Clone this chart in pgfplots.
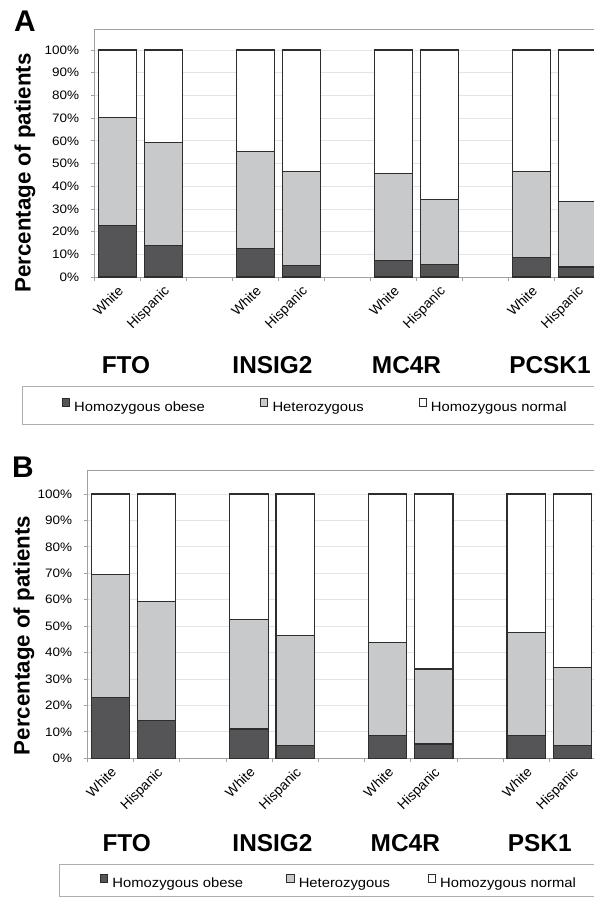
\documentclass[border=0pt]{standalone}
\usepackage{graphicx}
\usepackage{pgfplots}
\pgfplotsset{compat=1.18}
\usepackage{fontspec}
\setmainfont{Liberation Sans}
\newcommand\st[1]{\scalebox{1.1}[1]{#1}}
\definecolor{dk}{RGB}{85,85,87}
\definecolor{lt}{RGB}{200,201,203}
\definecolor{ol}{RGB}{45,45,45}
\definecolor{ax}{RGB}{160,160,160}
\definecolor{gr}{RGB}{228,228,228}
\pgfplotsset{
 panel/.style={
  scale only axis,
  ybar stacked,
  xmin=-0.5, xmax=10.5, ymin=0,
  axis line style={ax, line width=0.9bp},
  ytick={0,10,...,100},
  yticklabels={\st{0\%},\st{10\%},\st{20\%},\st{30\%},\st{40\%},\st{50\%},\st{60\%},\st{70\%},\st{80\%},\st{90\%},\st{100\%}},
  xtick={0,1,3,4,6,7,9,10},
  xticklabels={White,Hispanic,White,Hispanic,White,Hispanic,White,Hispanic},
  minor xtick={-0.5,0.5,1.5,2.5,3.5,4.5,5.5,6.5,7.5,8.5,9.5,10.5},
  tick align=outside,
  xtick pos=left, ytick pos=left,
  every major x tick/.append style={draw=none},
  major tick length=3bp, minor tick length=4bp,
  every tick/.append style={ax, line width=0.8bp},
  ymajorgrids, major grid style={gr, line width=0.8bp},
  yticklabel style={font=\fontsize{12.3}{14}\selectfont, inner sep=1bp, xshift=-11bp},
  xticklabel style={font=\fontsize{13.8}{15}\selectfont, rotate=45, anchor=north east, inner sep=1bp, xshift=-2.5bp, yshift=-2bp},
  every axis plot/.append style={draw=ol, line width=1.1bp},
  legend image code/.code={\draw[#1, line width=0.8bp] (0bp,1.6bp) rectangle (7.3bp,8.9bp);},
  legend style={draw=none, fill=none, inner sep=0pt, outer sep=0pt,
    font=\fontsize{13.5}{15}\selectfont, legend columns=3,
    nodes={inner sep=0pt},
    /tikz/every odd column/.style={column sep=4.3bp}},
 }
}
\begin{document}
\begin{tikzpicture}
\path[use as bounding box] (0,0) rectangle (594bp,-898bp);
% ---------------- Panel A
\begin{axis}[panel, at={(94.3bp,-277bp)}, anchor=south west,
  width=506bp, height=248bp, ymax=109.25, bar width=37.7bp,
  legend style={at={(-0.0644,-0.519)}, anchor=west}]
\addplot[fill=dk] coordinates {(0,22.5) (1,14.0) (3,12.5) (4,5.0) (6,7.4) (7,5.6) (9,8.5) (10,4.4)};
\addplot[fill=lt] coordinates {(0,47.8) (1,45.1) (3,42.6) (4,41.5) (6,38.0) (7,28.4) (9,38.1) (10,29.0)};
\addplot[fill=white] coordinates {(0,29.7) (1,40.9) (3,44.9) (4,53.5) (6,54.6) (7,66.0) (9,53.4) (10,66.6)};
\legend{\makebox[186bp][l]{\st{Homozygous obese}},\makebox[146bp][l]{\st{Heterozygous}},\st{Homozygous normal}}
\end{axis}
\draw[ax!85, line width=0.9bp] (22.3bp,-386.7bp) rectangle (640bp,-424bp);
\node[inner sep=0pt, font=\bfseries\fontsize{30}{30}\selectfont] at (25bp,-21bp) {A};
\node[inner sep=0pt, rotate=90, font=\bfseries\fontsize{22.4}{24}\selectfont] at (25bp,-173bp) {Percentage of patients};
\begin{scope}[every node/.style={inner sep=0pt, font=\bfseries\fontsize{24.5}{26}\selectfont}]
\node at (126bp,-365bp) {FTO};
\node at (272.5bp,-365bp) {INSIG2};
\node at (406.5bp,-365bp) {MC4R};
\node at (550bp,-365bp) {PCSK1};
\end{scope}
% ---------------- Panel B
\begin{axis}[panel, at={(87.3bp,-758.3bp)}, anchor=south west,
  width=508.2bp, height=288.3bp, ymax=109.08, bar width=38.4bp,
  legend style={at={(0.025,-0.428)}, anchor=west}]
\addplot[fill=dk] coordinates {(0,23.0) (1,14.2) (3,11.1) (4,4.8) (6,8.8) (7,5.4) (9,8.6) (10,4.9)};
\addplot[fill=lt] coordinates {(0,46.5) (1,45.2) (3,41.4) (4,41.7) (6,35.0) (7,28.4) (9,38.9) (10,29.5)};
\addplot[fill=white] coordinates {(0,30.5) (1,40.6) (3,47.5) (4,53.5) (6,56.2) (7,66.2) (9,52.5) (10,65.6)};
\legend{\makebox[174bp][l]{\st{Homozygous obese}},\makebox[129bp][l]{\st{Heterozygous}},\st{Homozygous normal}}
\end{axis}
\draw[ax!85, line width=0.9bp] (59bp,-864bp) rectangle (640bp,-896.7bp);
\node[inner sep=0pt, font=\bfseries\fontsize{30}{30}\selectfont] at (23bp,-467bp) {B};
\node[inner sep=0pt, rotate=90, font=\bfseries\fontsize{22.4}{24}\selectfont] at (24bp,-635.5bp) {Percentage of patients};
\begin{scope}[every node/.style={inner sep=0pt, font=\bfseries\fontsize{24.5}{26}\selectfont}]
\node at (126.7bp,-843.3bp) {FTO};
\node at (272.5bp,-843.3bp) {INSIG2};
\node at (405.3bp,-843.3bp) {MC4R};
\node at (539.8bp,-843.3bp) {PSK1};
\end{scope}
\end{tikzpicture}
\end{document}
